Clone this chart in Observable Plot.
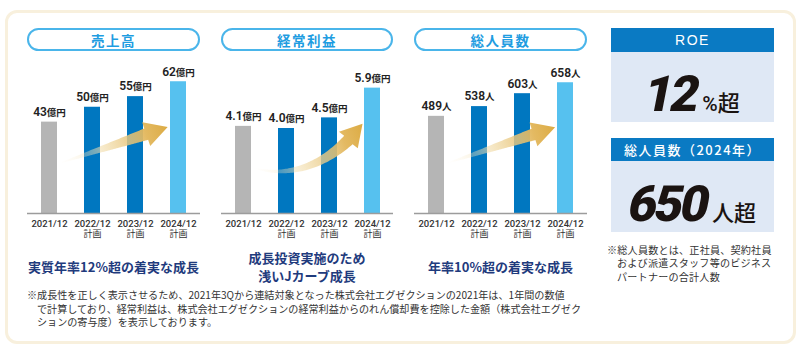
<!DOCTYPE html>
<html><head><meta charset="utf-8">
<script src="https://cdn.jsdelivr.net/npm/d3@7"></script>
<script src="https://cdn.jsdelivr.net/npm/@observablehq/plot@0.6"></script>
<style>
body{margin:0;background:#fff;}
#root{position:relative;width:802px;height:355px;overflow:hidden;font-family:"Noto Sans CJK JP",sans-serif;color:#333;background:#fff;}
.abs{position:absolute;}
.frame{left:5px;top:10px;width:791px;height:334px;border:3px solid #f8f0dd;border-radius:12px;box-sizing:border-box;}
.pill{top:28px;height:23px;border:2px solid #4ab5ea;border-radius:12px;box-sizing:border-box;display:flex;align-items:center;justify-content:center;color:#1f9de1;font-weight:700;font-size:13.5px;letter-spacing:1.5px;background:#fff;}
.cap{color:#1f3b7d;font-weight:700;font-size:13px;line-height:18px;text-align:center;white-space:nowrap;}
.foot{left:27px;top:288px;font-size:10.1px;line-height:13.5px;color:#333;white-space:nowrap;}
.note{left:607px;top:242.5px;font-size:10.1px;line-height:13.5px;color:#333;white-space:nowrap;letter-spacing:0.2px;}
.hdr{left:611px;width:163px;background:#0a7ac3;color:#fff;display:flex;align-items:center;justify-content:center;}
.body{left:611px;width:163px;background:#dfe8f5;}
.big{left:611px;width:163px;text-align:center;font-size:50px;line-height:50px;white-space:nowrap;color:#1a1311;}
.num{display:inline-block;font-family:Roboto,"Liberation Sans",sans-serif;font-weight:900;letter-spacing:-3px;transform:skewX(-11deg);}
.unit{font-family:"Noto Sans CJK JP",sans-serif;font-size:22px;font-weight:500;line-height:1;}
.pct{font-family:Roboto,sans-serif;font-size:21px;font-weight:500;line-height:1;margin-left:5px;}
</style>
</head><body><div id="root"></div>
<script>
// ---- data ----
const periods = ["2021/12","2022/12","2023/12","2024/12"];
const periodNotes = ["","計画","計画","計画"];
const barKinds = ["実績","計画","計画","目標"];
const kindNames = ["実績","計画","目標"];
const kindColors = ["#b5b5b5","#0077c0","#56c1ef"];
const salesValues = [43,50,55,62];
const salesLabels = ["43億円","50億円","55億円","62億円"];
const profitValues = [4.1,4.0,4.5,5.9];
const profitLabels = ["4.1億円","4.0億円","4.5億円","5.9億円"];
const staffValues = [489,538,603,658];
const staffLabels = ["489人","538人","603人","658人"];
const panelTitles = ["売上高","経常利益","総人員数"];
const panelCaptions = [["実質年率12%超の着実な成長"],["成長投資実施のため","浅いJカーブ成長"],["年率10%超の着実な成長"]];
// arrow control points: [period index, value]
const salesArrow = [[0.26,23.5],[1.09,29.2],[1.93,34.8],[2.76,40.5]];
const profitArrow = [[0.24,2.12],[1.22,1.56],[2.15,2.5],[2.78,4.2]];
const staffArrow = [[0.26,251],[1.1,311],[1.93,372],[2.77,432]];
const roeTitle = "ROE", roeValue = "12", roeUnit = ["%","超"];
const staffTargetTitle = "総人員数（2024年）", staffTarget = "650", staffTargetUnit = "人超";
const footLines = ["※成長性を正しく表示させるため、2021年3Qから連結対象となった株式会社エグゼクションの2021年は、1年間の数値",
 "で計算しており、経常利益は、株式会社エグゼクションの経常利益からのれん償却費を控除した金額（株式会社エグゼク",
 "ションの寄与度）を表示しております。"];
const noteLines = ["※総人員数とは、正社員、契約社員","および派遣スタッフ等のビジネス","パートナーの合計人数"];

// ---- layout ----
const root = document.getElementById("root");
function el(cls, css, html){const d=document.createElement("div");d.className="abs "+cls;Object.assign(d.style,css);if(html!=null)d.innerHTML=html;root.appendChild(d);return d;}
el("frame",{});
const layout = [{left:27,width:173,yMax:72},{left:221,width:172,yMax:7.2},{left:414,width:173,yMax:770}];
const series = [[salesValues,salesLabels,salesArrow],[profitValues,profitLabels,profitArrow],[staffValues,staffLabels,staffArrow]];

function bez(p,t){const u=1-t;return [0,1].map(k=>u*u*u*p[0][k]+3*u*u*t*p[1][k]+3*u*t*t*p[2][k]+t*t*t*p[3][k]);}

function drawArrow(svg, xs, ys, ctrl, gid){
  const bw = xs.bandwidth;
  const a0 = xs.apply(periods[0]), a1 = xs.apply(periods[1]);
  const step = a1 - a0, c0 = a0 + bw/2;
  const P = ctrl.map(p=>[c0+p[0]*step, ys.apply(p[1])]);
  const N=80, S=[], len=[0];
  for(let i=0;i<=N;i++){S.push(bez(P,i/N)); if(i>0){len.push(len[i-1]+Math.hypot(S[i][0]-S[i-1][0],S[i][1]-S[i-1][1]));}}
  const L=len[N], headLen=23;
  let k=0; while(len[k] < L-headLen) k++;
  const B=S[k], H=S[N];
  const left=[], right=[];
  for(let i=0;i<=k;i++){
    const a=S[Math.max(0,i-1)], b=S[Math.min(N,i+1)];
    const tl=Math.hypot(b[0]-a[0],b[1]-a[1]); const tx=(b[0]-a[0])/tl, ty=(b[1]-a[1])/tl;
    const n=[-ty,tx]; const w=0.4+5.6*(len[i]/len[k]);
    left.push([S[i][0]+n[0]*w,S[i][1]+n[1]*w]); right.push([S[i][0]-n[0]*w,S[i][1]-n[1]*w]);
  }
  const dl=Math.hypot(H[0]-B[0],H[1]-B[1]); const dx=(H[0]-B[0])/dl, dy=(H[1]-B[1])/dl; const n=[-dy,dx];
  const hw=12.5;
  const pts=[...left,[B[0]+n[0]*hw,B[1]+n[1]*hw],H,[B[0]-n[0]*hw,B[1]-n[1]*hw],...right.reverse()];
  const ns="http://www.w3.org/2000/svg";
  const defs=document.createElementNS(ns,"defs");
  defs.innerHTML=`<linearGradient id="${gid}" gradientUnits="userSpaceOnUse" x1="${P[0][0]}" y1="${P[0][1]}" x2="${H[0]}" y2="${H[1]}">
    <stop offset="0" stop-color="#fbf0d6" stop-opacity="0"/>
    <stop offset="0.45" stop-color="#f0d9a3" stop-opacity="0.7"/>
    <stop offset="0.8" stop-color="#e2b65a" stop-opacity="0.95"/>
    <stop offset="1" stop-color="#dcab43" stop-opacity="1"/></linearGradient>`;
  svg.appendChild(defs);
  const path=document.createElementNS(ns,"path");
  path.setAttribute("d","M"+pts.map(p=>p[0].toFixed(2)+","+p[1].toFixed(2)).join("L")+"Z");
  path.setAttribute("fill",`url(#${gid})`);
  svg.appendChild(path);
}

layout.forEach((lay,pi)=>{
  el("pill",{left:lay.left+"px",width:lay.width+"px"},panelTitles[pi]);
  const [values,labels,arrow]=series[pi];
  const rows = periods.map((p,i)=>({period:p,value:values[i],label:labels[i],kind:barKinds[i],note:periodNotes[i]}));
  const svg = Plot.plot({
    width: lay.width, height: 185, marginTop:0, marginBottom:32, marginLeft:0, marginRight:0,
    style:{background:"transparent", overflow:"visible", fontFamily:"Roboto, 'Noto Sans CJK JP', sans-serif"},
    x:{domain:periods, axis:null, paddingInner:0.63, paddingOuter:0.315},
    y:{domain:[0,lay.yMax], axis:null},
    color:{domain:kindNames, range:kindColors},
    marks:[
      Plot.barY(rows,{x:"period",y:"value",fill:"kind"}),
      Plot.ruleY([0],{stroke:"#9c9c9c",strokeWidth:1.5}),
      Plot.text(rows,{x:"period",y:"value",text:"label",dy:-10,fill:"#222",fontSize:12,fontWeight:600}),
      Plot.text(rows,{x:"period",y:()=>0,text:"period",dy:10,fill:"#333",fontSize:9.5,fontWeight:500}),
      Plot.text(rows.filter(d=>d.note),{x:"period",y:()=>0,text:"note",dy:21,fill:"#333",fontSize:9,fontFamily:"Noto Sans CJK JP"})
    ]
  });
  // split unit into smaller tspan
  svg.querySelectorAll("text").forEach(t=>{
    const m=/^([\d.]+)(億円|人)$/.exec(t.textContent);
    if(m){t.textContent="";const ns="http://www.w3.org/2000/svg";
      const a=document.createElementNS(ns,"tspan");a.textContent=m[1];
      const b=document.createElementNS(ns,"tspan");b.textContent=m[2];b.setAttribute("font-size","9.5");b.setAttribute("font-family","Noto Sans CJK JP");
      t.appendChild(a);t.appendChild(b);}
  });
  drawArrow(svg, svg.scale("x"), svg.scale("y"), arrow, "ag"+pi);
  const wrap=el("",{left:lay.left+"px",top:"60px",width:lay.width+"px",height:"185px"});
  wrap.appendChild(svg);
  const caps=panelCaptions[pi];
  const cy = caps.length===1?258:249;
  el("cap",{left:(lay.left-20)+"px",width:(lay.width+40)+"px",top:cy+"px"},caps.join("<br>"));
});

// footnote
el("foot",{},footLines.map((l,i)=>`<div style="padding-left:${i?10:0}px">${l}</div>`).join(""));
// right boxes
el("hdr",{top:"28px",height:"24px",fontFamily:"'Liberation Sans',Arial,sans-serif",fontSize:"14px",letterSpacing:"1.5px"},roeTitle);
el("body",{top:"52px",height:"70px"});
el("big",{top:"64px"},`<span class="num">${roeValue}</span><span class="pct">${roeUnit[0]}</span><span class="unit">${roeUnit[1]}</span>`);
el("hdr",{top:"138px",height:"23px",fontSize:"13px",fontWeight:"500",letterSpacing:"1.5px"},staffTargetTitle);
el("body",{top:"161px",height:"71px"});
el("big",{top:"174px"},`<span class="num">${staffTarget}</span><span class="unit" style="margin-left:5px">${staffTargetUnit}</span>`);
el("note",{},noteLines.map((l,i)=>`<div style="padding-left:${i?10:0}px">${l}</div>`).join(""));
</script></body></html>
